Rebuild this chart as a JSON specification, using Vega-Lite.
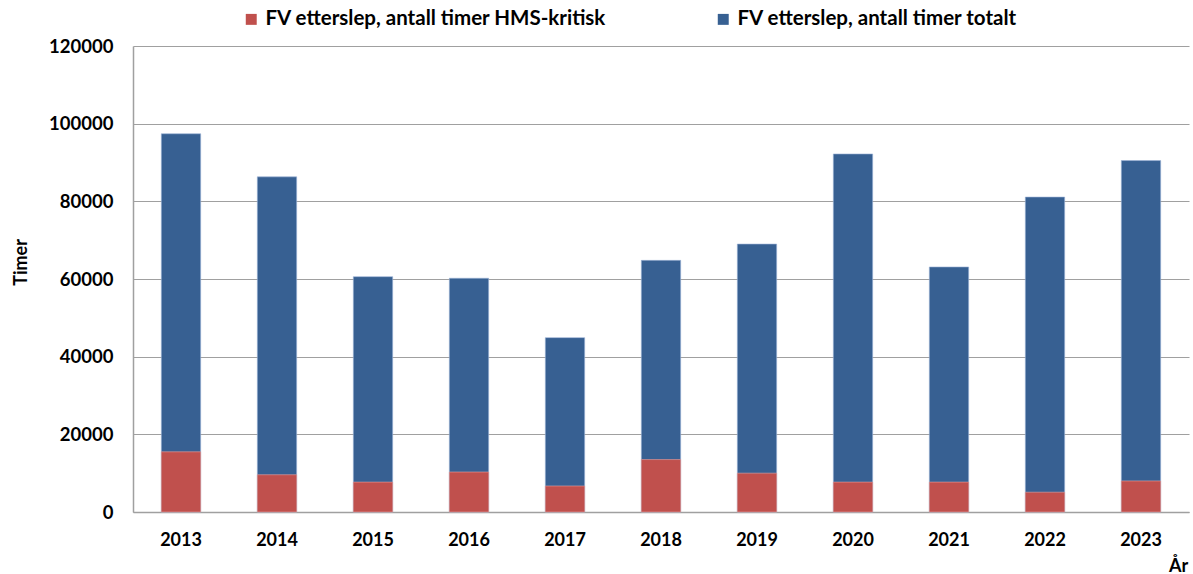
{
  "$schema": "https://vega.github.io/schema/vega-lite/v6.json",
  "width": 1056,
  "height": 466,
  "autosize": {"type": "none"},
  "padding": {"left": 133, "top": 46, "right": 4, "bottom": 62},
  "background": "white",
  "config": {
    "view": {"stroke": null},
    "font": "Lato"
  },
  "data": {
    "values": [
      {"year": "2013", "series": "FV etterslep, antall timer totalt", "value": 97400},
      {"year": "2014", "series": "FV etterslep, antall timer totalt", "value": 86300},
      {"year": "2015", "series": "FV etterslep, antall timer totalt", "value": 60600},
      {"year": "2016", "series": "FV etterslep, antall timer totalt", "value": 60200},
      {"year": "2017", "series": "FV etterslep, antall timer totalt", "value": 44900},
      {"year": "2018", "series": "FV etterslep, antall timer totalt", "value": 64800},
      {"year": "2019", "series": "FV etterslep, antall timer totalt", "value": 69000},
      {"year": "2020", "series": "FV etterslep, antall timer totalt", "value": 92200},
      {"year": "2021", "series": "FV etterslep, antall timer totalt", "value": 63100},
      {"year": "2022", "series": "FV etterslep, antall timer totalt", "value": 81100},
      {"year": "2023", "series": "FV etterslep, antall timer totalt", "value": 90500},
      {"year": "2013", "series": "FV etterslep, antall timer HMS-kritisk", "value": 15500},
      {"year": "2014", "series": "FV etterslep, antall timer HMS-kritisk", "value": 9600},
      {"year": "2015", "series": "FV etterslep, antall timer HMS-kritisk", "value": 7700},
      {"year": "2016", "series": "FV etterslep, antall timer HMS-kritisk", "value": 10300},
      {"year": "2017", "series": "FV etterslep, antall timer HMS-kritisk", "value": 6700},
      {"year": "2018", "series": "FV etterslep, antall timer HMS-kritisk", "value": 13500},
      {"year": "2019", "series": "FV etterslep, antall timer HMS-kritisk", "value": 10000},
      {"year": "2020", "series": "FV etterslep, antall timer HMS-kritisk", "value": 7700},
      {"year": "2021", "series": "FV etterslep, antall timer HMS-kritisk", "value": 7700},
      {"year": "2022", "series": "FV etterslep, antall timer HMS-kritisk", "value": 5100},
      {"year": "2023", "series": "FV etterslep, antall timer HMS-kritisk", "value": 8000}
    ]
  },
  "encoding": {
    "x": {
      "field": "year",
      "type": "ordinal",
      "scale": {"paddingInner": 0.59, "paddingOuter": 0.295},
      "axis": {
        "title": "År",
        "titleFont": "Lato",
        "titleFontSize": 18,
        "titleFontWeight": "bold",
        "titleColor": "black",
        "titleAnchor": "start",
        "titleAlign": "center",
        "titleBaseline": "middle",
        "titleX": 1045,
        "titleY": 54,
        "labelAngle": 0,
        "labelFont": "Lato",
        "labelFontSize": 18,
        "labelFontWeight": "bold",
        "labelColor": "black",
        "labelPadding": 19,
        "ticks": false,
        "domainColor": "#a0a0a0",
        "domainWidth": 1.5
      }
    },
    "y": {
      "field": "value",
      "type": "quantitative",
      "scale": {"domain": [0, 120000]},
      "axis": {
        "title": "Timer",
        "titleFont": "Lato",
        "titleFontSize": 18,
        "titleFontWeight": "bold",
        "titleColor": "black",
        "titleX": -112,
        "titleY": 216,
        "titleAlign": "center",
        "titleBaseline": "middle",
        "values": [0, 20000, 40000, 60000, 80000, 100000, 120000],
        "format": "d",
        "labelFont": "Lato",
        "labelFontSize": 18.5,
        "labelFontWeight": "bold",
        "labelColor": "black",
        "labelPadding": 20,
        "ticks": false,
        "gridColor": "#a0a0a0",
        "gridWidth": 1.2,
        "domainColor": "#a0a0a0",
        "domainWidth": 1.5
      }
    },
    "color": {
      "field": "series",
      "type": "nominal",
      "scale": {
        "domain": ["FV etterslep, antall timer HMS-kritisk", "FV etterslep, antall timer totalt"],
        "range": ["#C0504D", "#376092"]
      },
      "legend": {
        "title": null,
        "orient": "none",
        "direction": "horizontal",
        "legendX": 108,
        "legendY": -37,
        "columns": 2,
        "columnPadding": 106,
        "symbolType": "square",
        "symbolSize": 120,
        "symbolStrokeWidth": 0,
        "symbolOffset": 0,
        "labelFont": "Lato",
        "labelFontSize": 20.5,
        "labelFontWeight": "bold",
        "labelColor": "black",
        "labelOffset": 4,
        "labelLimit": 500
      }
    }
  },
  "layer": [
    {
      "transform": [{"filter": "datum.series === 'FV etterslep, antall timer totalt'"}],
      "mark": {"type": "bar", "stroke": "#9db3d6", "strokeWidth": 0.6}
    },
    {
      "transform": [{"filter": "datum.series === 'FV etterslep, antall timer HMS-kritisk'"}],
      "mark": {"type": "bar", "stroke": "#e6a3a1", "strokeWidth": 0.6}
    }
  ]
}
